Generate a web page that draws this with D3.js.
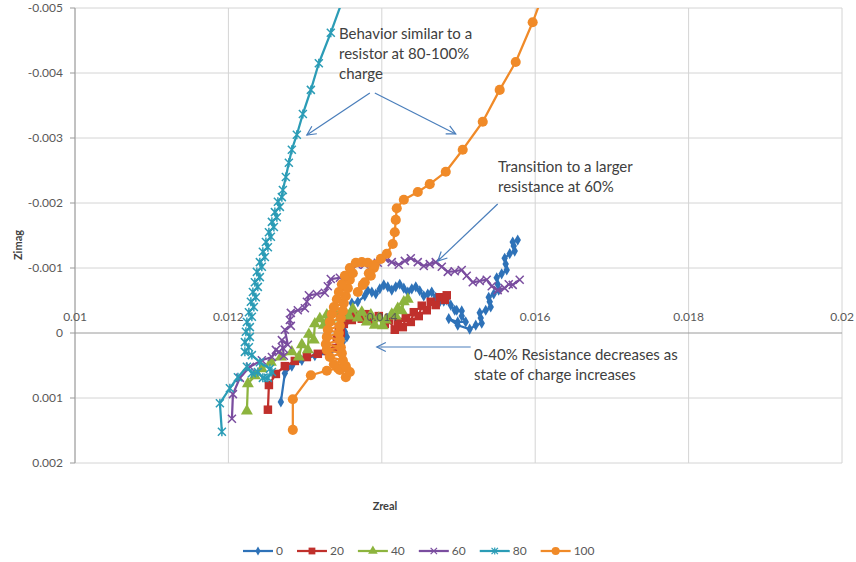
<!DOCTYPE html>
<html>
<head>
<meta charset="utf-8">
<title>Zreal vs Zimag</title>
<script src="https://d3js.org/d3.v7.min.js"></script>
<style>
  body { margin: 0; background: #fff; }
  svg { font-family: Lato, "Open Sans", sans-serif; }
  .tick-label { font-size: 12px; fill: #595959; }
  .axis-title { font-size: 11px; font-weight: bold; fill: #404040; }
  .note { font-size: 15px; fill: #404040; }
  .legend-label { font-size: 12px; fill: #595959; }
</style>
</head>
<body>
<svg id="chart" width="856" height="562"></svg>
<script>
// axis ticks
const xTicks = [0.01, 0.012, 0.014, 0.016, 0.018, 0.02];
const xTickLabels = ["0.01", "0.012", "0.014", "0.016", "0.018", "0.02"];
const yTicks = [-0.005, -0.004, -0.003, -0.002, -0.001, 0, 0.001, 0.002];
const yTickLabels = ["-0.005", "-0.004", "-0.003", "-0.002", "-0.001", "0", "0.001", "0.002"];

// state of charge series, [Zreal, Zimag]
const seriesNames = ["0", "20", "40", "60", "80", "100"];

const soc0 = [
  [0.012684, 0.00106], [0.012736, 0.00062], [0.012827, 0.00051], [0.012958, 0.00042],
  [0.013127, 0.00035], [0.013296, 0.00031], [0.013427, 0.00026], [0.013492, 0.00014],
  [0.013544, 0.00006], [0.013518, -0.00002], [0.013492, -0.00011], [0.013557, -0.00020],
  [0.013622, -0.00026], [0.013609, -0.00035], [0.013609, -0.00046], [0.013687, -0.00048],
  [0.013778, -0.00057], [0.013817, -0.00065], [0.013870, -0.00063], [0.013922, -0.00060],
  [0.013974, -0.00068], [0.014026, -0.00074], [0.014078, -0.00071], [0.014130, -0.00066],
  [0.014182, -0.00071], [0.014234, -0.00075], [0.014287, -0.00069], [0.014339, -0.00063],
  [0.014391, -0.00068], [0.014443, -0.00071], [0.014495, -0.00065], [0.014547, -0.00057],
  [0.014599, -0.00060], [0.014651, -0.00063], [0.014703, -0.00055], [0.014756, -0.00048],
  [0.014808, -0.00049], [0.014847, -0.00051], [0.014899, -0.00043], [0.014951, -0.00035],
  [0.014977, -0.00035], [0.015042, -0.00034], [0.015042, -0.00026], [0.015094, -0.00017],
  [0.014990, -0.00017], [0.014873, -0.00022], [0.014990, -0.00012], [0.015146, -0.00006],
  [0.015225, -0.00012], [0.015303, -0.00015], [0.015290, -0.00023], [0.015277, -0.00031],
  [0.015355, -0.00035], [0.015420, -0.00040], [0.015407, -0.00048], [0.015394, -0.00055],
  [0.015459, -0.00060], [0.015524, -0.00066], [0.015511, -0.00075], [0.015498, -0.00085],
  [0.015563, -0.00091], [0.015629, -0.00097], [0.015615, -0.00106], [0.015602, -0.00115],
  [0.015668, -0.00122], [0.015733, -0.00126], [0.015720, -0.00134], [0.015707, -0.00140],
  [0.015772, -0.00143]
];

const soc20 = [
  [0.012515, 0.00118], [0.012528, 0.00080], [0.012619, 0.00063], [0.012736, 0.00051],
  [0.012866, 0.00043], [0.013023, 0.00037], [0.013166, 0.00032], [0.013296, 0.00028],
  [0.013401, 0.00023], [0.013453, 0.00017], [0.013414, 0.00008], [0.013466, 0.00000],
  [0.013440, -0.00009], [0.013505, -0.00014], [0.013531, -0.00022], [0.013609, -0.00020],
  [0.013661, -0.00028], [0.013739, -0.00022], [0.013804, -0.00029], [0.013883, -0.00020],
  [0.013961, -0.00026], [0.014039, -0.00014], [0.014091, -0.00020], [0.014169, -0.00005],
  [0.014208, -0.00017], [0.014274, -0.00009], [0.014313, -0.00023], [0.014378, -0.00017],
  [0.014417, -0.00032], [0.014482, -0.00026], [0.014521, -0.00042], [0.014586, -0.00035],
  [0.014638, -0.00048], [0.014703, -0.00043], [0.014756, -0.00055], [0.014821, -0.00051],
  [0.014847, -0.00058]
];

const soc40 = [
  [0.012241, 0.00120], [0.012254, 0.00078], [0.012345, 0.00066], [0.012436, 0.00055],
  [0.012554, 0.00045], [0.012684, 0.00037], [0.012827, 0.00029], [0.012918, 0.00037],
  [0.012958, 0.00018], [0.013036, 0.00026], [0.013049, 0.00002], [0.013114, 0.00011],
  [0.013127, -0.00014], [0.013192, -0.00022], [0.013244, -0.00012], [0.013283, -0.00028],
  [0.013335, -0.00018], [0.013388, -0.00032], [0.013453, -0.00023], [0.013505, -0.00035],
  [0.013570, -0.00026], [0.013622, -0.00037], [0.013687, -0.00023], [0.013739, -0.00032],
  [0.013804, -0.00017], [0.013857, -0.00028], [0.013909, -0.00012], [0.013961, -0.00023],
  [0.014013, -0.00011], [0.014052, -0.00020], [0.014130, -0.00029], [0.014182, -0.00026],
  [0.014208, -0.00038], [0.014260, -0.00034], [0.014287, -0.00048], [0.014339, -0.00052]
];

const soc60 = [
  [0.012046, 0.00132], [0.012059, 0.00094], [0.012150, 0.00069], [0.012280, 0.00052],
  [0.012436, 0.00042], [0.012567, 0.00037], [0.012619, 0.00026], [0.012658, 0.00029],
  [0.012723, 0.00035], [0.012710, 0.00023], [0.012697, 0.00011], [0.012775, 0.00018],
  [0.012736, -0.00005], [0.012814, -0.00011], [0.012801, -0.00020], [0.012814, -0.00031],
  [0.012905, -0.00035], [0.012997, -0.00038], [0.013023, -0.00048], [0.013049, -0.00058],
  [0.013153, -0.00060], [0.013257, -0.00062], [0.013296, -0.00072], [0.013335, -0.00083],
  [0.013453, -0.00085], [0.013557, -0.00085], [0.013609, -0.00097], [0.013674, -0.00105],
  [0.013778, -0.00105], [0.013870, -0.00102], [0.013948, -0.00108], [0.014039, -0.00114],
  [0.014130, -0.00109], [0.014221, -0.00105], [0.014300, -0.00111], [0.014378, -0.00115],
  [0.014469, -0.00109], [0.014547, -0.00103], [0.014625, -0.00106], [0.014703, -0.00109],
  [0.014782, -0.00102], [0.014860, -0.00094], [0.014951, -0.00095], [0.015042, -0.00097],
  [0.015107, -0.00088], [0.015186, -0.00078], [0.015277, -0.00080], [0.015368, -0.00082],
  [0.015433, -0.00072], [0.015511, -0.00066], [0.015602, -0.00069], [0.015655, -0.00075],
  [0.015707, -0.00074], [0.015798, -0.00082]
];

const soc80 = [
  [0.011915, 0.00152], [0.011889, 0.00108], [0.012019, 0.00085], [0.012124, 0.00068],
  [0.012241, 0.00052], [0.012306, 0.00062], [0.012384, 0.00060], [0.012449, 0.00069],
  [0.012515, 0.00069], [0.012567, 0.00060], [0.012541, 0.00055], [0.012410, 0.00045],
  [0.012306, 0.00034], [0.012215, 0.00029], [0.012267, 0.00022], [0.012215, 0.00014],
  [0.012280, 0.00006], [0.012228, -0.00002], [0.012280, -0.00009], [0.012241, -0.00017],
  [0.012306, -0.00025], [0.012267, -0.00032], [0.012332, -0.00040], [0.012293, -0.00048],
  [0.012358, -0.00055], [0.012319, -0.00063], [0.012384, -0.00071], [0.012345, -0.00078],
  [0.012410, -0.00086], [0.012371, -0.00094], [0.012436, -0.00102], [0.012410, -0.00109],
  [0.012476, -0.00117], [0.012449, -0.00125], [0.012515, -0.00132], [0.012489, -0.00140],
  [0.012554, -0.00148], [0.012528, -0.00155], [0.012593, -0.00163], [0.012567, -0.00171],
  [0.012632, -0.00178], [0.012606, -0.00186], [0.012671, -0.00194], [0.012645, -0.00202],
  [0.012697, -0.00209], [0.012710, -0.00220], [0.012749, -0.00240], [0.012788, -0.00262],
  [0.012827, -0.00282], [0.012892, -0.00305], [0.012971, -0.00337], [0.013075, -0.00374],
  [0.013179, -0.00415], [0.013335, -0.00462], [0.013479, -0.00509]
];

const soc100 = [
  [0.012840, 0.00149], [0.012840, 0.00102], [0.013075, 0.00065], [0.013283, 0.00058],
  [0.013427, 0.00054], [0.013531, 0.00068], [0.013583, 0.00060], [0.013453, 0.00057],
  [0.013531, 0.00051], [0.013375, 0.00048], [0.013492, 0.00042], [0.013322, 0.00037],
  [0.013479, 0.00031], [0.013283, 0.00026], [0.013466, 0.00022], [0.013270, 0.00017],
  [0.013453, 0.00011], [0.013283, 0.00006], [0.013440, 0.00000], [0.013296, -0.00005],
  [0.013453, -0.00011], [0.013322, -0.00017], [0.013466, -0.00023], [0.013348, -0.00029],
  [0.013492, -0.00034], [0.013375, -0.00040], [0.013505, -0.00046], [0.013414, -0.00052],
  [0.013531, -0.00057], [0.013440, -0.00063], [0.013557, -0.00069], [0.013479, -0.00075],
  [0.013583, -0.00082], [0.013518, -0.00088], [0.013622, -0.00092], [0.013583, -0.00100],
  [0.013661, -0.00108], [0.013739, -0.00109], [0.013817, -0.00108], [0.013896, -0.00100],
  [0.013857, -0.00088], [0.013778, -0.00078], [0.013687, -0.00063], [0.013752, -0.00074],
  [0.013831, -0.00092], [0.013909, -0.00105], [0.013987, -0.00114], [0.014065, -0.00122],
  [0.014143, -0.00137], [0.014169, -0.00155], [0.014182, -0.00174], [0.014195, -0.00192],
  [0.014287, -0.00205], [0.014469, -0.00217], [0.014625, -0.00229], [0.014834, -0.00248],
  [0.015055, -0.00282], [0.015316, -0.00325], [0.015537, -0.00374], [0.015746, -0.00417],
  [0.015967, -0.00478], [0.016124, -0.00528]
];

// annotation arrows, [from, to] in data units
const arrows = [
  [[0.013844, -0.003692], [0.013023, -0.003046]],
  [[0.013909, -0.003692], [0.014964, -0.003062]],
  [[0.015511, -0.001985], [0.014730, -0.001108]],
  [[0.015159, 0.000215], [0.013935, 0.000215]]
];
const notes = [
  ["Behavior similar to a", "resistor at 80-100%", "charge"],
  ["Transition to a larger", "resistance at 60%"],
  ["0-40% Resistance decreases as", "state of charge increases"]
];

const svg = d3.select("#chart");
const plot = { left: 75, right: 842, top: 8, bottom: 463 };

const x = d3.scaleLinear().domain([0.01, 0.02]).range([plot.left, plot.right]);
const y = d3.scaleLinear().domain([-0.005, 0.002]).range([plot.top, plot.bottom]);

const colors = ["#2e72b8", "#c0302c", "#8db43e", "#7a4d9f", "#2b9cb6", "#f08a28"];
const allSeries = [soc0, soc20, soc40, soc60, soc80, soc100];

svg.append("rect").attr("width", 856).attr("height", 562).attr("fill", "#fff");

svg.append("clipPath").attr("id", "plot-clip")
  .append("rect")
  .attr("x", plot.left).attr("y", plot.top)
  .attr("width", plot.right - plot.left).attr("height", plot.bottom - plot.top);

// gridlines
svg.append("g").selectAll("line").data(xTicks).join("line")
  .attr("x1", d => x(d)).attr("x2", d => x(d))
  .attr("y1", plot.top).attr("y2", plot.bottom)
  .attr("stroke", "#d4d4d4").attr("stroke-width", 1);
svg.append("g").selectAll("line").data(yTicks).join("line")
  .attr("x1", plot.left).attr("x2", plot.right)
  .attr("y1", d => y(d)).attr("y2", d => y(d))
  .attr("stroke", d => d === 0 ? "#9a9a9a" : "#d4d4d4").attr("stroke-width", 1);

// vertical axis line with ticks
svg.append("line")
  .attr("x1", plot.left).attr("x2", plot.left)
  .attr("y1", plot.top).attr("y2", plot.bottom)
  .attr("stroke", "#9a9a9a");
svg.append("g").selectAll("line").data(yTicks).join("line")
  .attr("x1", plot.left - 5).attr("x2", plot.left)
  .attr("y1", d => y(d)).attr("y2", d => y(d))
  .attr("stroke", "#9a9a9a");

// marker shapes
function markerPath(i) {
  if (i === 0) return d3.symbol(d3.symbolDiamond, 36)();
  if (i === 1) return d3.symbol(d3.symbolSquare, 72)();
  if (i === 2) return d3.symbol(d3.symbolTriangle, 62)();
  if (i === 3) return "M-4,-4L4,4M-4,4L4,-4";
  if (i === 4) return "M-4,-4L4,4M-4,4L4,-4M0,-4.5L0,4.5";
  return d3.symbol(d3.symbolCircle, 80)();
}

const line = d3.line().x(d => x(d[0])).y(d => y(d[1]));

const dataLayer = svg.append("g").attr("clip-path", "url(#plot-clip)");
allSeries.forEach((pts, i) => {
  const g = dataLayer.append("g");
  g.append("path").datum(pts)
    .attr("d", line)
    .attr("fill", "none")
    .attr("stroke", colors[i])
    .attr("stroke-width", 2.25)
    .attr("stroke-linejoin", "round");
  const stroked = i === 3 || i === 4;
  g.selectAll("path.m").data(pts).join("path")
    .attr("class", "m")
    .attr("transform", d => `translate(${x(d[0])},${y(d[1])})`)
    .attr("d", markerPath(i))
    .attr("fill", stroked ? "none" : colors[i])
    .attr("stroke", stroked ? colors[i] : "none")
    .attr("stroke-width", 1.5);
});

// tick labels
svg.append("g").selectAll("text").data(xTicks).join("text")
  .attr("class", "tick-label")
  .attr("x", d => x(d)).attr("y", y(0) - 12)
  .attr("text-anchor", "middle")
  .text((d, i) => xTickLabels[i]);
svg.append("g").selectAll("text").data(yTicks).join("text")
  .attr("class", "tick-label")
  .attr("x", plot.left - 12).attr("y", d => y(d) + 4)
  .attr("text-anchor", "end")
  .text((d, i) => yTickLabels[i]);

// axis titles
svg.append("text").attr("class", "axis-title")
  .attr("transform", "translate(22,245) rotate(-90)")
  .attr("text-anchor", "middle").text("Zimag");
svg.append("text").attr("class", "axis-title")
  .attr("x", 385).attr("y", 510)
  .attr("text-anchor", "middle").text("Zreal");

// annotations
svg.append("defs").append("marker")
  .attr("id", "arrowhead")
  .attr("markerUnits", "userSpaceOnUse")
  .attr("markerWidth", 14).attr("markerHeight", 14)
  .attr("refX", 0).attr("refY", 0)
  .attr("viewBox", "-12 -7 14 14")
  .attr("orient", "auto")
  .append("path")
  .attr("d", "M-9,-4.5L0,0L-9,4.5")
  .attr("fill", "none").attr("stroke", "#4a7ebb").attr("stroke-width", 1.2);

svg.append("g").selectAll("line").data(arrows).join("line")
  .attr("x1", d => x(d[0][0])).attr("y1", d => y(d[0][1]))
  .attr("x2", d => x(d[1][0])).attr("y2", d => y(d[1][1]))
  .attr("stroke", "#4a7ebb").attr("stroke-width", 1.2)
  .attr("marker-end", "url(#arrowhead)");

const notePos = [[339, 39], [498, 172], [474, 360]];
notes.forEach((lines, i) => {
  const t = svg.append("text").attr("class", "note")
    .attr("x", notePos[i][0]).attr("y", notePos[i][1]);
  lines.forEach((s, j) => {
    t.append("tspan").attr("x", notePos[i][0]).attr("dy", j === 0 ? 0 : 20).text(s);
  });
});

// legend
const legend = svg.append("g").attr("transform", "translate(243,551)");
let lx = 0;
seriesNames.forEach((name, i) => {
  const item = legend.append("g").attr("transform", `translate(${lx},0)`);
  item.append("line").attr("x1", 0).attr("x2", 30).attr("y1", 0).attr("y2", 0)
    .attr("stroke", colors[i]).attr("stroke-width", 2.25);
  const stroked = i === 3 || i === 4;
  item.append("path")
    .attr("transform", "translate(15,0) scale(0.8)")
    .attr("d", markerPath(i))
    .attr("fill", stroked ? "none" : colors[i])
    .attr("stroke", stroked ? colors[i] : "none")
    .attr("stroke-width", 1.5);
  const label = item.append("text").attr("class", "legend-label")
    .attr("x", 33).attr("y", 4).text(name);
  lx += 33 + label.node().getComputedTextLength() + 14;
});
</script>
</body>
</html>
